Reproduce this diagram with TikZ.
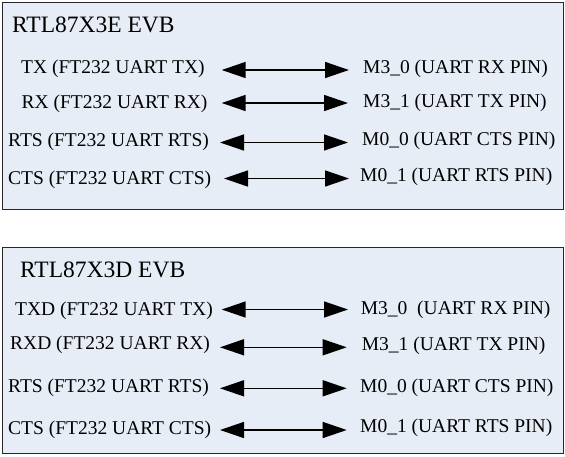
\documentclass[tikz,border=0pt]{standalone}
\usepackage{fontspec}
\setmainfont{Liberation Serif}
\usetikzlibrary{arrows.meta}
\definecolor{boxfill}{RGB}{231,237,247}
\definecolor{boxline}{RGB}{40,40,40}
\tikzset{
  panel/.style={draw=boxline, fill=boxfill, line width=1pt},
  ttl/.style={anchor=west, inner sep=0pt, font=\fontsize{23.5}{26}\selectfont},
  lbl/.style={anchor=west, inner sep=0pt, font=\fontsize{19.5}{22}\selectfont},
  tip/.tip={Triangle[length=24pt,width=16pt]},
  link/.style={line width=1.5pt, tip-tip}
}
\begin{document}
\begin{tikzpicture}[x=1pt,y=-1pt]
\useasboundingbox (0,0) rectangle (565,456);
% panels
\draw[panel] (2,2) rectangle (563,209.5);
\draw[panel] (2,247) rectangle (563,453.5);
% top panel
\node[ttl] (t1) at (12,24.5) {RTL87X3E EVB};
\node[lbl] (l1) at (21,69) {TX (FT232 UART TX)};
\node[lbl] (l2) at (21.5,104) {RX (FT232 UART RX)};
\node[lbl] (l3) at (8,142) {RTS (FT232 UART RTS)};
\node[lbl] (l4) at (8,180) {CTS (FT232 UART CTS)};
\node[lbl] (r1) at (363,68.5) {M3\_0 (UART RX PIN)};
\node[lbl] (r2) at (363,103) {M3\_1 (UART TX PIN)};
\node[lbl] (r3) at (362,141) {M0\_0 (UART CTS PIN)};
\node[lbl] (r4) at (360,177) {M0\_1 (UART RTS PIN)};
\coordinate (a1l) at (221.7,70);  \coordinate (a1r) at (349,70);
\coordinate (a2l) at (221.7,103); \coordinate (a2r) at (348,103);
\coordinate (a3l) at (220,142.5); \coordinate (a3r) at (348,142.5);
\coordinate (a4l) at (224,178.5); \coordinate (a4r) at (349,178.5);
\draw[link] (a1l) -- (a1r);
\draw[link] (a2l) -- (a2r);
\draw[link] (a3l) -- (a3r);
\draw[link] (a4l) -- (a4r);
% bottom panel
\node[ttl] (t2) at (20,270) {RTL87X3D EVB};
\node[lbl] (m1) at (15,311) {TXD (FT232 UART TX)};
\node[lbl] (m2) at (10,345) {RXD (FT232 UART RX)};
\node[lbl] (m3) at (8,388) {RTS (FT232 UART RTS)};
\node[lbl] (m4) at (8,430) {CTS (FT232 UART CTS)};
\node[lbl] (s1) at (360.7,310) {M3\_0\ \ (UART RX PIN)};
\node[lbl] (s2) at (361.7,346) {M3\_1 (UART TX PIN)};
\node[lbl] (s3) at (360,388) {M0\_0 (UART CTS PIN)};
\node[lbl] (s4) at (360,428) {M0\_1 (UART RTS PIN)};
\coordinate (b1l) at (221.7,309.5); \coordinate (b1r) at (348,309.5);
\coordinate (b2l) at (220,347.3);   \coordinate (b2r) at (346.7,347.3);
\coordinate (b3l) at (220,388.3);   \coordinate (b3r) at (346.7,388.3);
\coordinate (b4l) at (220,430);     \coordinate (b4r) at (346.7,430);
\draw[link] (b1l) -- (b1r);
\draw[link] (b2l) -- (b2r);
\draw[link] (b3l) -- (b3r);
\draw[link] (b4l) -- (b4r);
\end{tikzpicture}
\end{document}
